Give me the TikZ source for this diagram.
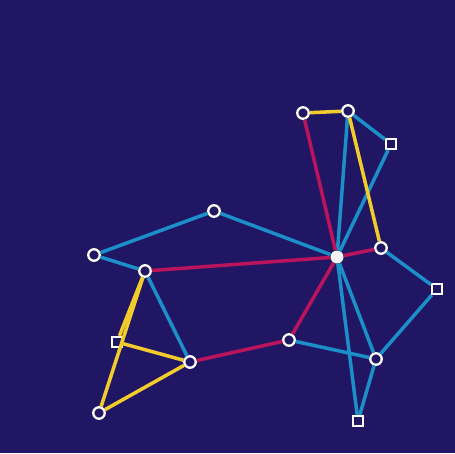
\documentclass[tikz,border=0pt]{standalone}
\usepackage{tikz}
\usetikzlibrary{positioning}
\definecolor{navy}{RGB}{32,22,100}
\definecolor{cyanline}{RGB}{28,142,200}
\definecolor{redline}{RGB}{186,20,92}
\definecolor{yelline}{RGB}{242,204,44}

\begin{document}
\begin{tikzpicture}[x=.02cm, y=-.02cm,
    dot/.style={circle, draw=white, fill=navy, line width=1.3pt, minimum size=.23cm, inner sep=0pt},
    box/.style={rectangle, draw=white, fill=navy, line width=1.3pt, minimum size=.2cm, inner sep=0pt},
    hub/.style={circle, fill=white!92!gray, minimum size=.26cm, inner sep=0pt},
    bond/.style={line width=2pt}]
      \fill[navy] (0,0) rectangle (455,453);
      % round stations
      \foreach \name/\x/\y in {a/303/113, b/348/111, e/381/248, g/376/359, i/289/340,
                              j/214/211, k/94/255, l/145/271, n/190/362, o/99/413}{
        \node[dot] (\name) at (\x,\y) {};
        }
      % square stations
      \foreach \name/\x/\y in {c/391/144, f/437/289, h/358/421, m/117/342}{
        \node[box] (\name) at (\x,\y) {};
        }
      \node[hub] (d) at (337,257) {};
      \foreach \u/\v in {k/j, j/d, k/l, l/n, b/c, c/d, b/d, d/g, d/h, e/f, f/g, i/g, g/h}
        \draw[bond, cyanline] (\u) -- (\v);
      \foreach \u/\v in {a/d, l/d, d/e, d/i, i/n}
        \draw[bond, redline] (\u) -- (\v);
      \foreach \u/\v in {a/b, b/e, l/m, l/o, m/n, n/o}
        \draw[bond, yelline] (\u) -- (\v);
    \end{tikzpicture}
\end{document}
